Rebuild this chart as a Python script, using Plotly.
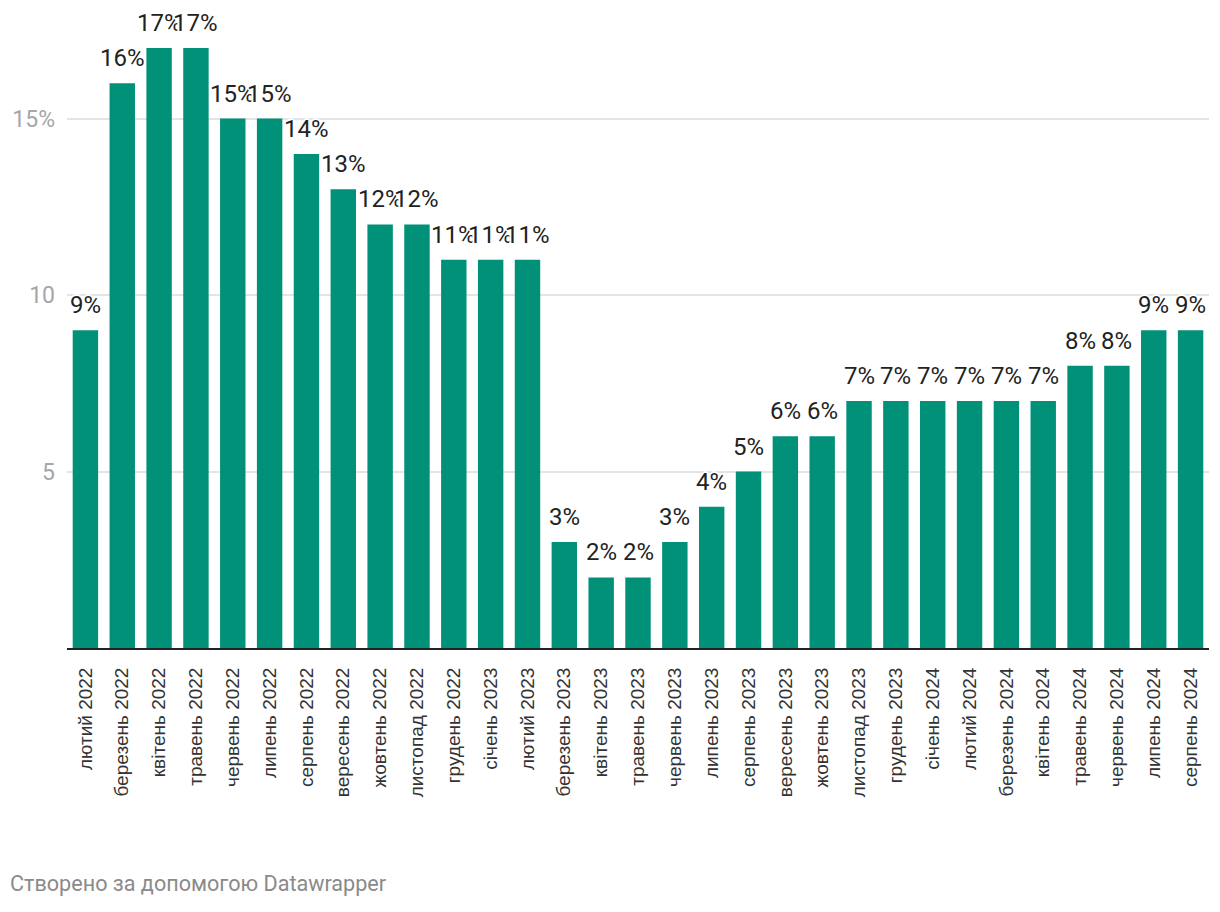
import plotly.graph_objects as go

months = ["лютий 2022", "березень 2022", "квітень 2022", "травень 2022", "червень 2022",
          "липень 2022", "серпень 2022", "вересень 2022", "жовтень 2022", "листопад 2022",
          "грудень 2022", "січень 2023", "лютий 2023", "березень 2023", "квітень 2023",
          "травень 2023", "червень 2023", "липень 2023", "серпень 2023", "вересень 2023",
          "жовтень 2023", "листопад 2023", "грудень 2023", "січень 2024", "лютий 2024",
          "березень 2024", "квітень 2024", "травень 2024", "червень 2024", "липень 2024",
          "серпень 2024"]
values = [9, 16, 17, 17, 15, 15, 14, 13, 12, 12, 11, 11, 11, 3, 2, 2, 3, 4, 5, 6, 6,
          7, 7, 7, 7, 7, 7, 8, 8, 9, 9]
y_tickvals = [5, 10, 15]
y_ticktext = ["5", "10", "15%"]
caption = "Створено за допомогою Datawrapper"

BAR = "#009178"
FONT = "Roboto"
LFONT = "Liberation Sans"
HALO = "2px 0 0 #fff, -2px 0 0 #fff, 0 2px 0 #fff, 0 -2px 0 #fff, 1px 1px 0 #fff, -1px -1px 0 #fff, 1px -1px 0 #fff, -1px 1px 0 #fff"

W, H = 1204, 896
L, R, T, B = 59, 3, 40, 256
PH = H - T - B

fig = go.Figure()
fig.add_trace(go.Bar(x=months, y=values, marker=dict(color=BAR, line=dict(width=0)),
                     hoverinfo="x+y"))

for m, v in zip(months, values):
    fig.add_annotation(x=m, y=v, xref="x", yref="y", text=f"{v}%", showarrow=False,
                       yanchor="bottom", yshift=9,
                       font=dict(family=FONT, size=24, color="#222222", shadow=HALO))

fig.add_annotation(xref="paper", yref="paper", x=(0 - L) / (W - L - R),
                   y=(T + PH - 890) / PH,
                   xanchor="left", yanchor="bottom", text=caption, showarrow=False,
                   font=dict(family=FONT, size=21.6, color="#8a8a8a"))

fig.update_layout(
    width=W, height=H,
    margin=dict(l=L, r=R, t=T, b=B, pad=0),
    paper_bgcolor="white", plot_bgcolor="white",
    bargap=0.31, showlegend=False,
    font=dict(family=FONT),
)
fig.update_xaxes(type="category", tickangle=-90, showgrid=False,
                 showline=True, linecolor="#222222", linewidth=2,
                 ticks="", ticklabelstandoff=10,
                 tickfont=dict(family=LFONT, size=19, color="#333333"))
fig.update_yaxes(range=[0, 17], tickvals=y_tickvals, ticktext=y_ticktext,
                 showgrid=True, gridcolor="#e4e4e4", gridwidth=1.5,
                 zeroline=False, showline=False, ticks="", ticklabelstandoff=11,
                 tickfont=dict(family=FONT, size=23, color="#a6a6a6"))

fig.write_html("out.html")
